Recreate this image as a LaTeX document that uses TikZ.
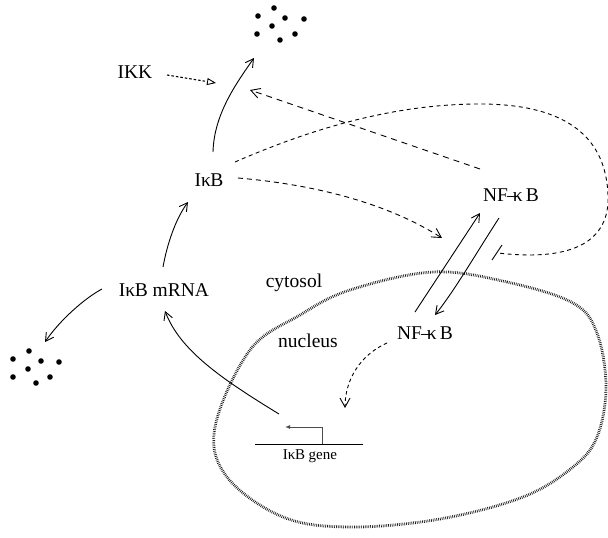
\documentclass[tikz,border=0pt]{standalone}
\usepackage{fontspec}
\setmainfont{Liberation Serif}
\usetikzlibrary{arrows.meta}
\begin{document}
\begin{tikzpicture}[x=1pt,y=-1pt,
  lbl/.style={inner sep=0pt,font=\fontsize{19.5}{22}\selectfont},
  small/.style={inner sep=0pt,font=\fontsize{15}{17}\selectfont},
  dot/.style={fill=black,draw=none},
  act/.style={line width=0.9pt,-{Straight Barb[length=8pt,width=9pt,line width=0.9pt]}},
  dsh/.style={line width=0.9pt,dash pattern=on 5pt off 4pt,-{Straight Barb[length=9pt,width=10pt,line width=0.9pt]}},
  dtt/.style={line width=1.1pt,dash pattern=on 2.5pt off 2pt,-{Triangle[open,length=9pt,width=7pt,line width=0.9pt]}},
  nucl/.style={line width=2.8pt,black!90,dash pattern=on 0.7pt off 1.1pt}]
\useasboundingbox (0,0) rectangle (608,538);

% labels
\node[lbl] (IKK) at (135,72) {IKK};
\node[lbl] (IkB) at (209,180) {Iκ\kern-0.5ptB};
\node[lbl] (NFc) at (511,195) {NF\kern-1pt–\kern-4ptκ\,B};
\node[lbl] (NFn) at (425,333) {NF\kern-1pt–\kern-4ptκ\,B};
\node[lbl] (mRNA) at (164,290) {Iκ\kern-0.5ptB mRNA};
\node[lbl] (cyt) at (294,283) {cytosol};
\node[lbl] (nuc) at (308,341) {nucleus};
\node[small] (gene) at (310,456) {Iκ\kern-0.5ptB gene};

% dots (degradation products)
\foreach \p in {(274,8),(258,16),(285,18),(304,19),(272,26),(257,34),(295,34),(280,40)}
  \fill[dot] \p circle (2.8);
\foreach \p in {(29,351),(13,359),(41,361),(59,362),(28,369),(13,377),(50,377),(36,383)}
  \fill[dot] \p circle (2.8);

% nucleus boundary
\draw[nucl] plot[smooth cycle, tension=0.6] coordinates {(433,272) (507,282) (573,303) (597,333) (606,387) (597,437) (573,467) (523,497) (440,519) (350,527) (283,517) (227,477) (215,427) (250,350) (300,315) (350,290)};

% endpoint coordinates
\coordinate (ikbTop) at (213,152);
\coordinate (degTop) at (254,58);
\coordinate (ikkE) at (167,75);
\coordinate (ikkT) at (216,83);
\coordinate (nfcS) at (480,169);
\coordinate (nfcT) at (250,90);
\coordinate (ikbR1) at (235,162);
\coordinate (loopTop) at (480,104);
\coordinate (loopR) at (608,195);
\coordinate (loopE) at (498,253);
\coordinate (bar1) at (492,260);
\coordinate (bar2) at (502,245);
\coordinate (ikbR2) at (238,178);
\coordinate (bindT) at (442,238);
\coordinate (inS) at (415,312);
\coordinate (inT) at (480,213);
\coordinate (outS) at (499,218);
\coordinate (outT) at (435,315);
\coordinate (nfnS) at (387,343);
\coordinate (geneT) at (345,408);
\coordinate (gL) at (255,444);
\coordinate (gR) at (363,444);
\coordinate (pB) at (322,444);
\coordinate (pC) at (322,427);
\coordinate (pT) at (285,427);
\coordinate (trS) at (279,414);
\coordinate (trT) at (165,311);
\coordinate (mrS) at (102,289);
\coordinate (mrT) at (45,342);
\coordinate (tlS) at (163,267);
\coordinate (tlT) at (188,202);

% IkB degradation
\draw[act] (ikbTop) .. controls (214,115) and (235,85) .. (degTop);
% IKK action
\draw[dtt] (ikkE) -- (ikkT);
% NF-kB promotes degradation
\draw[dsh,dash pattern=on 6pt off 5pt] (nfcS) -- (nfcT);
% long loop: IkB inhibits nuclear import
\draw[line width=0.9pt,dash pattern=on 4pt off 3.5pt] (ikbR1) .. controls (320,125) and (400,104) .. (loopTop)
   .. controls (570,104) and (606,140) .. (loopR)
   .. controls (610,240) and (575,262) .. (loopE);
\draw[line width=0.9pt] (bar1) -- (bar2);
% IkB binds NF-kB
\draw[dsh] (ikbR2) .. controls (320,185) and (390,205) .. (bindT);
% shuttling
\draw[act] (inS) -- (inT);
\draw[act] (outS) .. controls (475,255) and (455,290) .. (outT);
% NF-kB activates gene
\draw[dsh,dash pattern=on 3.5pt off 3pt] (nfnS) .. controls (360,355) and (345,380) .. (geneT);
% gene
\draw[line width=0.9pt] (gL) -- (gR);
\draw[line width=1pt,black!70,-{Latex[length=5pt,width=4pt]}] (pB) -- (pC) -- (pT);
% transcription
\draw[act] (trS) .. controls (220,378) and (180,350) .. (trT);
% mRNA degradation
\draw[act] (mrS) .. controls (85,298) and (60,320) .. (mrT);
% translation
\draw[act] (tlS) .. controls (167,245) and (175,220) .. (tlT);
\end{tikzpicture}
\end{document}
